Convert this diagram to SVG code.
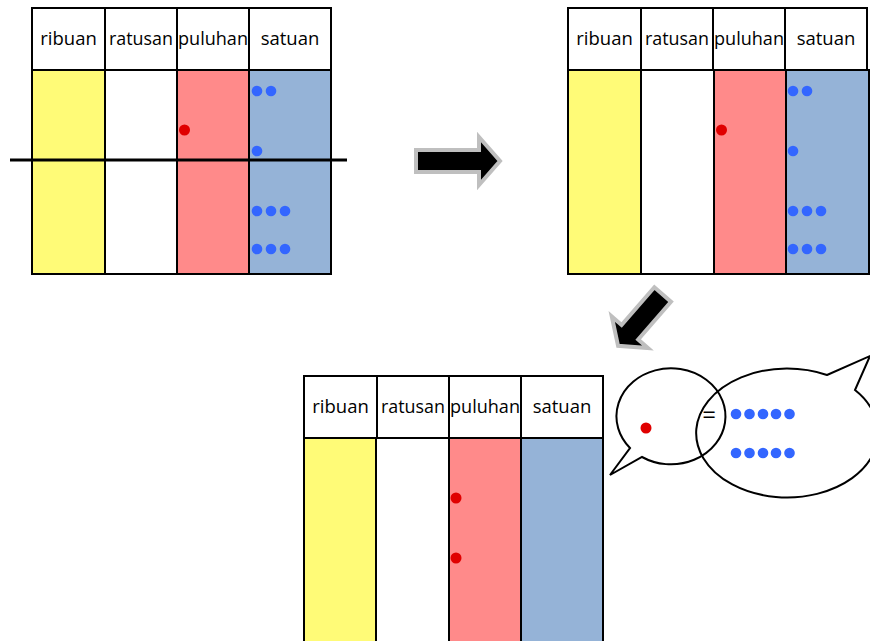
<svg xmlns="http://www.w3.org/2000/svg" width="870" height="641" viewBox="0 0 870 641">
  <style>
    .cell { stroke: #000; stroke-width: 2; }
    .hdr { fill: #fff; }
    .yel { fill: #FFFB77; }
    .wht { fill: #fff; }
    .red { fill: #FF8A8A; }
    .blu { fill: #95B3D7; }
    .lbl { font-family: "Open Sans", "Liberation Sans", sans-serif; font-size: 18.5px; fill: #000; text-anchor: middle; }
    .bd { fill: #3366FF; }
    .rd { fill: #E00000; }
    .arrow { fill: #000; stroke: #BFBFBF; stroke-width: 4; stroke-linejoin: miter; }
    .bubble { fill: none; stroke: #000; stroke-width: 2; }
  </style>
  <defs>
    <!-- place-value header row: ribuan / ratusan / puluhan / satuan -->
    <g id="header">
      <rect class="cell hdr" x="0" y="0" width="73" height="62"/>
      <rect class="cell hdr" x="73" y="0" width="72" height="62"/>
      <rect class="cell hdr" x="145" y="0" width="72" height="62"/>
      <rect class="cell hdr" x="217" y="0" width="82" height="62"/>
      <text class="lbl" x="36.5" y="37">ribuan</text>
      <text class="lbl" x="109" y="37" textLength="64" lengthAdjust="spacingAndGlyphs">ratusan</text>
      <text class="lbl" x="181" y="37" textLength="70" lengthAdjust="spacingAndGlyphs">puluhan</text>
      <text class="lbl" x="258" y="37">satuan</text>
    </g>
  </defs>

  <!-- table 1: 1 ten + 9 ones, split by a line -->
  <g id="table1">
    <use href="#header" x="32" y="8"/>
    <rect class="cell yel" x="32" y="70" width="73" height="204"/>
    <rect class="cell wht" x="105" y="70" width="72" height="204"/>
    <rect class="cell red" x="177" y="70" width="72" height="204"/>
    <rect class="cell blu" x="249" y="70" width="82" height="204"/>
    <circle class="rd" cx="184.5" cy="130" r="5.5"/>
    <circle class="bd" cx="257" cy="91" r="5.3"/>
    <circle class="bd" cx="271" cy="91" r="5.3"/>
    <circle class="bd" cx="257" cy="151" r="5.3"/>
    <circle class="bd" cx="257" cy="211" r="5.3"/>
    <circle class="bd" cx="271" cy="211" r="5.3"/>
    <circle class="bd" cx="285" cy="211" r="5.3"/>
    <circle class="bd" cx="257" cy="249" r="5.3"/>
    <circle class="bd" cx="271" cy="249" r="5.3"/>
    <circle class="bd" cx="285" cy="249" r="5.3"/>
    <line x1="10" y1="160" x2="347" y2="160" stroke="#000" stroke-width="3"/>
  </g>

  <!-- table 2: same counters, line removed -->
  <g id="table2">
    <use href="#header" x="568" y="8"/>
    <rect class="cell yel" x="568" y="70" width="73" height="204"/>
    <rect class="cell wht" x="641" y="70" width="73" height="204"/>
    <rect class="cell red" x="714" y="70" width="72" height="204"/>
    <rect class="cell blu" x="786" y="70" width="83" height="204"/>
    <circle class="rd" cx="721.5" cy="130" r="5.5"/>
    <circle class="bd" cx="793" cy="91" r="5.3"/>
    <circle class="bd" cx="807" cy="91" r="5.3"/>
    <circle class="bd" cx="793" cy="151" r="5.3"/>
    <circle class="bd" cx="793" cy="211" r="5.3"/>
    <circle class="bd" cx="807" cy="211" r="5.3"/>
    <circle class="bd" cx="821" cy="211" r="5.3"/>
    <circle class="bd" cx="793" cy="249" r="5.3"/>
    <circle class="bd" cx="807" cy="249" r="5.3"/>
    <circle class="bd" cx="821" cy="249" r="5.3"/>
  </g>

  <!-- table 3: two tens after regrouping -->
  <g id="table3">
    <use href="#header" x="304" y="376"/>
    <rect class="cell yel" x="304" y="438" width="72" height="210"/>
    <rect class="cell wht" x="376" y="438" width="73" height="210"/>
    <rect class="cell red" x="449" y="438" width="72" height="210"/>
    <rect class="cell blu" x="521" y="438" width="82" height="210"/>
    <circle class="rd" cx="456" cy="498" r="5.5"/>
    <circle class="rd" cx="456" cy="558" r="5.5"/>
  </g>

  <!-- speech bubbles: one ten equals ten ones -->
  <g id="bubble-ten">
    <path class="bubble" d="M630,448 A54.5,48 0 1 1 642,457 L610,475 Z"/>
    <circle class="rd" cx="646" cy="428" r="5.5"/>
  </g>
  <g id="bubble-ones">
    <path class="bubble" d="M827,375 L870,356 L855,390 A91,64.5 0 1 1 827,375 Z"/>
    <text x="709" y="423" font-family="Open Sans, Liberation Sans, sans-serif" font-size="24" text-anchor="middle">=</text>
    <circle class="bd" cx="736" cy="414" r="5.3"/>
    <circle class="bd" cx="749.5" cy="414" r="5.3"/>
    <circle class="bd" cx="763" cy="414" r="5.3"/>
    <circle class="bd" cx="776" cy="414" r="5.3"/>
    <circle class="bd" cx="789.5" cy="414" r="5.3"/>
    <circle class="bd" cx="736" cy="453" r="5.3"/>
    <circle class="bd" cx="749.5" cy="453" r="5.3"/>
    <circle class="bd" cx="763" cy="453" r="5.3"/>
    <circle class="bd" cx="776" cy="453" r="5.3"/>
    <circle class="bd" cx="789.5" cy="453" r="5.3"/>
  </g>

  <!-- block arrows between steps -->
  <g id="connectors">
    <path class="arrow" d="M416,150 L479,150 L479,137 L500,161 L479,185 L479,172 L416,172 Z"/>
    <path class="arrow" transform="translate(664,293) rotate(131)" d="M2,-11 L52,-11 L52,-24 L70,0 L52,24 L52,11 L2,11 Z"/>
  </g>
</svg>
